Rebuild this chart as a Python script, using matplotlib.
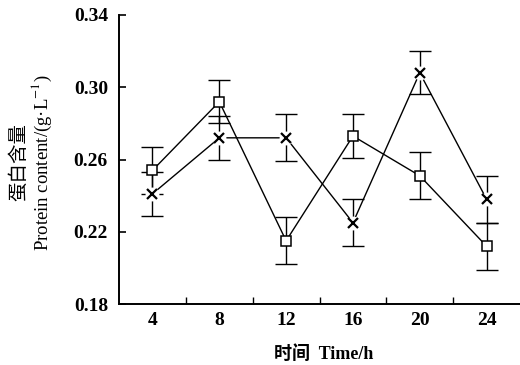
import matplotlib.pyplot as plt
import numpy as np

hours = ["4", "8", "12", "16", "20", "24"]
square_mean = [0.254, 0.292, 0.215, 0.273, 0.251, 0.212]
square_err = [0.013, 0.012, 0.013, 0.012, 0.013, 0.013]
cross_mean = [0.241, 0.272, 0.272, 0.225, 0.308, 0.238]
cross_err = [0.012, 0.012, 0.013, 0.013, 0.012, 0.013]
yticks = [0.18, 0.22, 0.26, 0.30, 0.34]

serif = "Liberation Serif"
cjk = "Noto Sans CJK SC"
plt.rcParams["mathtext.fontset"] = "stix"

fig = plt.figure(figsize=(5.2, 3.65), dpi=100)
ax = fig.add_axes([0.229, 0.167, 0.771, 0.792])
x = np.arange(len(hours))

ekw = dict(color="black", lw=1.0, capsize=8, capthick=1.0, elinewidth=1.0, fmt="none", zorder=2)
ax.errorbar(x, square_mean, yerr=square_err, **ekw)
ax.errorbar(x, cross_mean, yerr=cross_err, **ekw)
ax.plot(x, square_mean, color="black", lw=1.0, zorder=2)
ax.plot(x, cross_mean, color="black", lw=1.0, zorder=2)

# white halo so the lines stop short of the crosses
ax.plot(x, cross_mean, ls="none", marker="o", ms=10, mfc="white", mec="none", zorder=3)
ax.plot(x, cross_mean, ls="none", marker="x", ms=7, mew=1.6, color="black", zorder=4)
ax.plot(x, square_mean, ls="none", marker="s", ms=7, mfc="white", mec="black", mew=1.1, zorder=4)

ax.set_xlim(-0.5, 5.5)
ax.set_ylim(0.18, 0.34)
ax.set_yticks(yticks)
ax.set_yticklabels([f"{v:.2f}" for v in yticks], fontfamily=serif, fontweight="bold", fontsize=14)
ax.set_xticks(x)
ax.set_xticklabels(hours, fontfamily=serif, fontweight="bold", fontsize=14)
ax.set_xticks(np.arange(0.5, 5.0, 1.0), minor=True)
ax.tick_params(axis="x", which="major", length=0, pad=6)
ax.tick_params(axis="x", which="minor", direction="in", length=5, width=1.0)
ax.tick_params(axis="y", direction="in", length=5, width=1.2, pad=8)

for s in ["top", "right"]:
    ax.spines[s].set_visible(False)
for s in ["left", "bottom"]:
    ax.spines[s].set_linewidth(1.4)

fig.text(0.036, 0.555, "蛋白含量", rotation=90, ha="center", va="center",
         fontfamily=cjk, fontsize=14)
fig.text(0.080, 0.555, "Protein content/(g·L$^{-1}$)", rotation=90, ha="center", va="center",
         fontfamily=serif, fontsize=13.5)
fig.text(0.623, 0.031, "时间  Time/h", ha="center", va="center",
         fontfamily=[serif, cjk], fontweight="bold", fontsize=13)

fig.savefig("out.png", dpi=100)
